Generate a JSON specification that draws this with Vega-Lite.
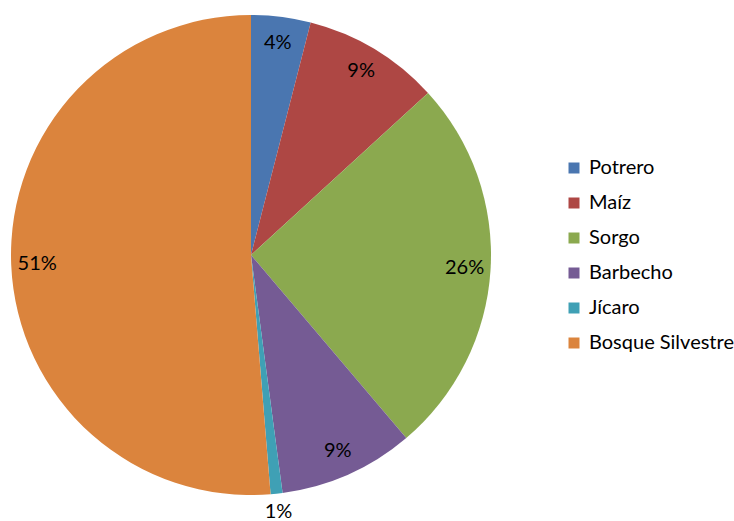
{
  "$schema": "https://vega.github.io/schema/vega-lite/v6.json",
  "width": 502,
  "height": 510,
  "autosize": "none",
  "padding": {"left": 0, "top": 0, "right": 232, "bottom": 11},
  "background": "white",
  "data": {
    "values": [
      {"cat": "Potrero", "valor": 4.0, "label": "4%", "orden": 1},
      {"cat": "Maíz", "valor": 9.2, "label": "9%", "orden": 2},
      {"cat": "Sorgo", "valor": 25.6, "label": "26%", "orden": 3},
      {"cat": "Barbecho", "valor": 9.1, "label": "9%", "orden": 4},
      {"cat": "Jícaro", "valor": 0.8, "label": "1%", "orden": 5},
      {"cat": "Bosque Silvestre", "valor": 51.3, "label": "51%", "orden": 6}
    ]
  },
  "encoding": {
    "theta": {"field": "valor", "type": "quantitative", "stack": true},
    "order": {"field": "orden", "type": "quantitative"}
  },
  "layer": [
    {
      "mark": {"type": "arc", "outerRadius": 240},
      "encoding": {
        "color": {
          "field": "cat",
          "type": "nominal",
          "sort": ["Potrero", "Maíz", "Sorgo", "Barbecho", "Jícaro", "Bosque Silvestre"],
          "scale": {
            "domain": ["Potrero", "Maíz", "Sorgo", "Barbecho", "Jícaro", "Bosque Silvestre"],
            "range": ["#4A76B0", "#AE4744", "#8BA94F", "#755B94", "#3FA0B5", "#DB843D"]
          },
          "legend": {
            "title": null,
            "orient": "none",
            "legendX": 564,
            "legendY": 158,
            "symbolType": "square",
            "symbolSize": 121,
            "symbolStrokeWidth": 0,
            "labelFont": "Lato",
            "labelFontSize": 20,
            "labelColor": "#000000",
            "labelOffset": 5,
            "rowPadding": 15,
            "labelLimit": 300
          }
        }
      }
    },
    {
      "mark": {"type": "text", "radius": 214, "font": "Lato", "fontSize": 20, "color": "#000000"},
      "encoding": {
        "text": {"condition": {"test": "datum.cat === 'Jícaro'", "value": ""}, "field": "label"}
      }
    },
    {
      "mark": {"type": "text", "radius": 258, "font": "Lato", "fontSize": 20, "color": "#000000"},
      "encoding": {
        "text": {"condition": {"test": "datum.cat !== 'Jícaro'", "value": ""}, "field": "label"}
      }
    }
  ]
}
